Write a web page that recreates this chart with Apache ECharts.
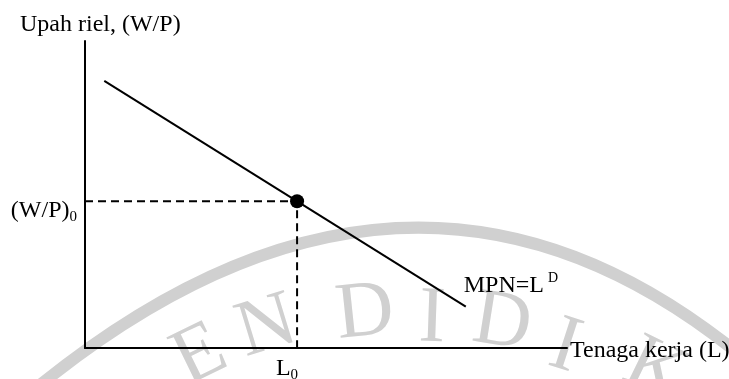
<!DOCTYPE html>
<html>
<head>
<meta charset="utf-8">
<script src="https://cdn.jsdelivr.net/npm/echarts@6/dist/echarts.min.js"></script>
<style>
html,body{margin:0;padding:0;background:#fff;}
#c{width:729px;height:379px;}
</style>
</head>
<body>
<div id="c"></div>
<script>
// ---- data ----
const mpnX = [0.4, 7.9];
const mpnY = [8.7, 1.35];
const eqX = 4.4;
const eqY = 4.78;
const yTitle = 'Upah riel, (W/P)';
const xTitle = 'Tenaga kerja (L)';
const curveLabel = ['MPN=L', 'D'];
const yEqLabel = ['(W/P)', '0'];
const xEqLabel = ['L', '0'];
const watermark = ['E', 'N', 'D', 'I', 'D', 'I', 'K'];

const FONT = '"Liberation Serif", "Times New Roman", serif';
const chart = echarts.init(document.getElementById('c'), null, {renderer: 'canvas'});

const axisCommon = {
  type: 'value', min: 0, max: 10,
  axisLine: {show: true, onZero: false, lineStyle: {color: '#000', width: 2}},
  axisTick: {show: false}, axisLabel: {show: false}, splitLine: {show: false}
};

chart.setOption({
  animation: false,
  backgroundColor: '#fff',
  grid: {left: 85, top: 41, right: 162, bottom: 31, containLabel: false},
  xAxis: Object.assign({}, axisCommon),
  yAxis: Object.assign({}, axisCommon),
  series: [
    {
      type: 'line', z: 3,
      data: mpnX.map((x, i) => [x, mpnY[i]]),
      symbol: 'none',
      lineStyle: {color: '#000', width: 2}
    },
    {
      type: 'line', z: 3,
      data: [[0, eqY], [eqX, eqY], [eqX, 0]],
      symbol: 'none',
      lineStyle: {color: '#000', width: 2, type: [8, 5]}
    },
    {
      type: 'scatter', z: 4,
      data: [[eqX, eqY]],
      symbolSize: 14,
      itemStyle: {color: '#000', opacity: 1}
    }
  ]
});

const pEq = chart.convertToPixel({gridIndex: 0}, [eqX, eqY]);
const pOrigin = chart.convertToPixel({gridIndex: 0}, [0, 0]);
const pEnd = chart.convertToPixel({gridIndex: 0}, [mpnX[1], mpnY[1]]);
const pTop = chart.convertToPixel({gridIndex: 0}, [0, 10]);
const pRight = chart.convertToPixel({gridIndex: 0}, [10, 0]);

const mainStyle = {fontSize: 24, fontFamily: FONT, color: '#000', lineHeight: 28};
const subStyle = {fontSize: 15, fontFamily: FONT, color: '#000', lineHeight: 14, verticalAlign: 'bottom'};
const supStyle = {fontSize: 14, fontFamily: FONT, color: '#000', lineHeight: 12, verticalAlign: 'top', padding: [0, 0, 0, 4]};

// watermark arc + letters
const wmColor = '#d0d0d0';
const wmPos = [[200, 356, 26], [267, 328, 17], [365, 314, 6], [432, 320, -2], [502, 324, -9], [565, 348, -18], [655, 372, -26]];
const wmGraphics = watermark.map((ch, i) => ({
  type: 'text', z: 0, silent: true,
  x: wmPos[i][0], y: wmPos[i][1], rotation: wmPos[i][2] * Math.PI / 180,
  style: {text: ch, fontSize: 80, fontFamily: FONT, fontWeight: 'normal', fill: wmColor, align: 'center', verticalAlign: 'middle'}
}));

chart.setOption({
  graphic: [
    {
      type: 'bezierCurve', z: -1, silent: true,
      shape: {x1: 40, y1: 385, x2: 740, y2: 355, cpx1: 410, cpy1: 86},
      style: {stroke: wmColor, lineWidth: 12, fill: null}
    }
  ].concat(wmGraphics).concat([
    {
      type: 'text', z: 10,
      x: 20, y: pTop[1] - 16,
      style: {text: yTitle, font: '24px ' + FONT, fill: '#000', align: 'left', verticalAlign: 'middle'}
    },
    {
      type: 'text', z: 10,
      x: pRight[0] + 3, y: pOrigin[1] + 3,
      style: {text: xTitle, font: '24px ' + FONT, fill: '#000', align: 'left', verticalAlign: 'middle'}
    },
    {
      type: 'text', z: 10,
      x: pEnd[0] - 2, y: pEnd[1] - 21,
      style: {text: '{m|' + curveLabel[0] + '}{s|' + curveLabel[1] + '}', align: 'left', verticalAlign: 'middle',
        rich: {m: mainStyle, s: supStyle}}
    },
    {
      type: 'text', z: 10,
      x: pOrigin[0] - 8, y: pEq[1] + 9,
      style: {text: '{m|' + yEqLabel[0] + '}{s|' + yEqLabel[1] + '}', align: 'right', verticalAlign: 'middle',
        rich: {m: mainStyle, s: subStyle}}
    },
    {
      type: 'text', z: 10,
      x: pEq[0] + 1, y: pOrigin[1] + 21,
      style: {text: '{m|' + xEqLabel[0] + '}{s|' + xEqLabel[1] + '}', align: 'right', verticalAlign: 'middle',
        rich: {m: mainStyle, s: subStyle}}
    }
  ])
});
</script>
</body>
</html>
